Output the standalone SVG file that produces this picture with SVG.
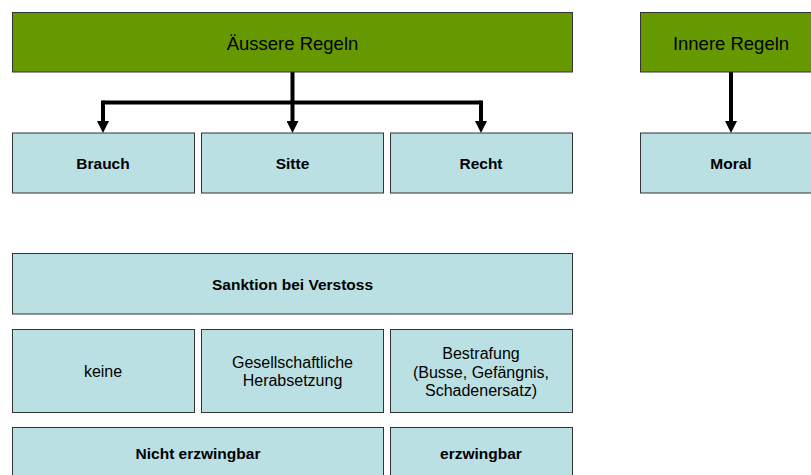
<svg xmlns="http://www.w3.org/2000/svg" width="811" height="475" viewBox="0 0 811 475">
<style>
.g{fill:#669900;stroke:#333333;stroke-width:1}
.b{fill:#BBE0E3;stroke:#333333;stroke-width:1}
.t{font-family:"Liberation Sans",Arial,sans-serif;fill:#000;text-anchor:middle}
.h{font-size:18.5px}
.bd{font-size:15.5px;font-weight:bold}
.r{font-size:16px}
.c{fill:none;stroke:#000;stroke-width:4}
</style>
<defs>
<marker id="ah" viewBox="0 0 12 12" refX="0" refY="6" markerWidth="12" markerHeight="12" markerUnits="userSpaceOnUse" orient="auto">
<path d="M0,0 L12,6 L0,12 z" fill="#000"/>
</marker>
</defs>
<rect width="811" height="475" fill="#fff"/>
<g id="connectors">
<path class="c" d="M292.5 72 V102.5" />
<path class="c" d="M103 102.5 H481" />
<path class="c" d="M292.5 102.5 V121" marker-end="url(#ah)"/>
<path class="c" d="M103 100.5 V121" marker-end="url(#ah)"/>
<path class="c" d="M481 100.5 V121" marker-end="url(#ah)"/>
<path class="c" d="M731 72 V121" marker-end="url(#ah)"/>
</g>
<g id="aussere">
<rect class="g" x="12.5" y="12.5" width="560" height="59.5"/>
<text class="t h" x="292.5" y="50">Äussere Regeln</text>
</g>
<g id="innere">
<rect class="g" x="640.5" y="12.5" width="182" height="59.5"/>
<text class="t h" x="731" y="50">Innere Regeln</text>
</g>
<g id="brauch">
<rect class="b" x="12.5" y="133" width="182" height="60"/>
<text class="t bd" x="103" y="169">Brauch</text>
</g>
<g id="sitte">
<rect class="b" x="201.5" y="133" width="182" height="60"/>
<text class="t bd" x="292.5" y="169">Sitte</text>
</g>
<g id="recht">
<rect class="b" x="390.5" y="133" width="182" height="60"/>
<text class="t bd" x="481" y="169">Recht</text>
</g>
<g id="moral">
<rect class="b" x="640.5" y="133" width="182" height="60"/>
<text class="t bd" x="731" y="169">Moral</text>
</g>
<g id="sanktion">
<rect class="b" x="12.5" y="253.5" width="560" height="60.5"/>
<text class="t bd" x="292.5" y="290">Sanktion bei Verstoss</text>
</g>
<g id="keine">
<rect class="b" x="12.5" y="329.5" width="182" height="83"/>
<text class="t r" x="103" y="377">keine</text>
</g>
<g id="gesellschaftlich">
<rect class="b" x="201.5" y="329.5" width="182" height="83"/>
<text class="t r" x="292.5" y="368">Gesellschaftliche</text>
<text class="t r" x="292.5" y="386.3">Herabsetzung</text>
</g>
<g id="bestrafung">
<rect class="b" x="390.5" y="329.5" width="182" height="83"/>
<text class="t r" x="481" y="359.3">Bestrafung</text>
<text class="t r" x="481" y="377.6">(Busse, Gefängnis,</text>
<text class="t r" x="481" y="395.9">Schadenersatz)</text>
</g>
<g id="nicht-erzwingbar">
<rect class="b" x="12.5" y="427.5" width="371" height="60"/>
<text class="t bd" x="198" y="459">Nicht erzwingbar</text>
</g>
<g id="erzwingbar">
<rect class="b" x="390.5" y="427.5" width="182" height="60"/>
<text class="t bd" x="481" y="459">erzwingbar</text>
</g>
</svg>
